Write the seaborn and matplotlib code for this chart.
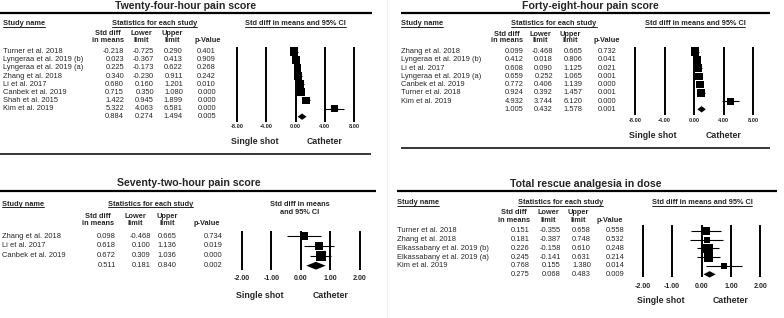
import matplotlib
matplotlib.use("Agg")
import matplotlib.pyplot as plt
import seaborn as sns
import pandas as pd
from matplotlib.lines import Line2D

# ---------------- data ----------------
titles = ["Twenty-four-hour pain score", "Forty-eight-hour pain score",
          "Seventy-two-hour pain score", "Total rescue analgesia in dose"]

studies_24 = ["Turner et al. 2018", "Lyngeraa et al. 2019 (b)", "Lyngeraa et al. 2019 (a)",
              "Zhang et al. 2018", "Li et al. 2017", "Canbek et al. 2019",
              "Shah et al. 2015", "Kim et al. 2019"]
smd_24 = [-0.218, 0.023, 0.225, 0.340, 0.680, 0.715, 1.422, 5.322]
lower_24 = [-0.725, -0.367, -0.173, -0.230, 0.160, 0.350, 0.945, 4.063]
upper_24 = [0.290, 0.413, 0.622, 0.911, 1.201, 1.080, 1.899, 6.581]
p_24 = ["0.401", "0.909", "0.268", "0.242", "0.010", "0.000", "0.000", "0.000"]
pooled_24 = [0.884, 0.274, 1.494]
pooled_p_24 = "0.005"

studies_48 = ["Zhang et al. 2018", "Lyngeraa et al. 2019 (b)", "Li et al. 2017",
              "Lyngeraa et al. 2019 (a)", "Canbek et al. 2019", "Turner et al. 2018",
              "Kim et al. 2019"]
smd_48 = [0.099, 0.412, 0.608, 0.659, 0.772, 0.924, 4.932]
lower_48 = [-0.468, 0.018, 0.090, 0.252, 0.406, 0.392, 3.744]
upper_48 = [0.665, 0.806, 1.125, 1.065, 1.139, 1.457, 6.120]
p_48 = ["0.732", "0.041", "0.021", "0.001", "0.000", "0.001", "0.000"]
pooled_48 = [1.005, 0.432, 1.578]
pooled_p_48 = "0.001"

studies_72 = ["Zhang et al. 2018", "Li et al. 2017", "Canbek et al. 2019"]
smd_72 = [0.098, 0.618, 0.672]
lower_72 = [-0.468, 0.100, 0.309]
upper_72 = [0.665, 1.136, 1.036]
p_72 = ["0.734", "0.019", "0.000"]
pooled_72 = [0.511, 0.181, 0.840]
pooled_p_72 = "0.002"

studies_res = ["Turner et al. 2018", "Zhang et al. 2018", "Elkassabany et al. 2019 (b)",
               "Elkassabany et al. 2019 (a)", "Kim et al. 2019"]
smd_res = [0.151, 0.181, 0.226, 0.245, 0.768]
lower_res = [-0.355, -0.387, -0.158, -0.141, 0.155]
upper_res = [0.658, 0.748, 0.610, 0.631, 1.380]
p_res = ["0.558", "0.532", "0.248", "0.214", "0.014"]
pooled_res = [0.275, 0.068, 0.483]
pooled_p_res = "0.009"

ticks_wide = [-8, -4, 0, 4, 8]
ticklabels_wide = ["-8.00", "-4.00", "0.00", "4.00", "8.00"]
ticks_narrow = [-2, -1, 0, 1, 2]
ticklabels_narrow = ["-2.00", "-1.00", "0.00", "1.00", "2.00"]

label_left, label_right = "Single shot", "Catheter"

# ---------------- style / layout ----------------
W, H = 784, 318
sns.set_theme(style="white")
plt.rcParams["font.family"] = ["Liberation Sans", "DejaVu Sans"]

fig = plt.figure(figsize=(W / 100, H / 100), dpi=100)
fig.patch.set_facecolor("white")


def fx(x):
    return x / W


def fy(y):
    return 1 - y / H


def ftext(x, y, s, size=5.4, weight="normal", ha="left", va="center"):
    return fig.text(fx(x), fy(y), s, fontsize=size, fontweight=weight, ha=ha, va=va)


def hline(x0, x1, y, lw, color="black"):
    fig.add_artist(Line2D([fx(x0), fx(x1)], [fy(y), fy(y)], transform=fig.transFigure,
                          color=color, lw=lw, solid_capstyle="butt"))


underlined = []

layouts = [
    dict(title=(186, 8.6), tline=(0, 372, 12.7), sub_y=23.3, study_x=3, stat_c=154.5,
         ci_c=295.5, ci_two=None, h1_y=33.7, h2_y=41, hc=[108, 141.7, 172], p_hc=208,
         row0=51.7, dy=8.125, cols=[124, 154, 183, 216], tick_px=(237.3, 354),
         vl=(47, 122), tick_y=127, tick_fs=4.1, ss=(255, 325, 141), bline=(0, 371, 154)),
    dict(title=(590, 8.6), tline=(401, 770, 12.7), sub_y=23.3, study_x=401, stat_c=554,
         ci_c=695, ci_two=None, h1_y=34, h2_y=41, hc=[507, 540, 570], p_hc=606.7,
         row0=51.7, dy=8.23, cols=[523.3, 553, 582.5, 616.7], tick_px=(635, 753.3),
         vl=(46.7, 115), tick_y=120.7, tick_fs=4.1, ss=(653, 724, 135), bline=(401, 770, 148)),
    dict(title=(188.5, 186.5), tline=(0, 376, 191), sub_y=204, study_x=2, stat_c=150.5,
         ci_c=299.7, ci_two=(204, 212.7), h1_y=216, h2_y=223.3, hc=[98, 135, 167.5],
         p_hc=206.7, row0=236, dy=9.9, cols=[116, 151, 176.7, 222.7], tick_px=(241.7, 360),
         vl=(230.7, 270), tick_y=278.3, tick_fs=5, ss=(259.7, 330.2, 295.7), bline=None),
    dict(title=(585.5, 187), tline=(397, 777, 191), sub_y=202.7, study_x=397.3, stat_c=560.5,
         ci_c=702, ci_two=None, h1_y=212.7, h2_y=220.3, hc=[514, 548, 578], p_hc=609.7,
         row0=231, dy=8.67, cols=[529.3, 561, 591, 624.3], tick_px=(642.7, 760.3),
         vl=(225, 277.3), tick_y=286, tick_fs=5, ss=(660.7, 730.8, 300.7), bline=None),
]

square_px = [
    [8.5, 7.5, 7.5, 7.5, 7.5, 8, 7.5, 7],
    [8.5, 7.5, 7.5, 7.5, 7.5, 7.5, 7],
    [7.6, 8, 10],
    [8.5, 6.3, 9.5, 9.5, 6],
]
diamond_half_px = [3.2, 3.2, 3.9, 3.2]

panels = [
    (studies_24, smd_24, lower_24, upper_24, p_24, pooled_24, pooled_p_24, ticks_wide, ticklabels_wide),
    (studies_48, smd_48, lower_48, upper_48, p_48, pooled_48, pooled_p_48, ticks_wide, ticklabels_wide),
    (studies_72, smd_72, lower_72, upper_72, p_72, pooled_72, pooled_p_72, ticks_narrow, ticklabels_narrow),
    (studies_res, smd_res, lower_res, upper_res, p_res, pooled_res, pooled_p_res, ticks_narrow, ticklabels_narrow),
]

# faint separator between the columns of panels
fig.add_artist(Line2D([fx(387), fx(387)], [0, 1], transform=fig.transFigure, color="#efefef", lw=0.6))

for k, (L, P) in enumerate(zip(layouts, panels)):
    names, smd, lo, hi, pv, pooled, pooled_p, ticks, ticklabels = P
    n = len(names)

    # headers
    ftext(L["title"][0], L["title"][1], titles[k], size=7.6, weight="bold", ha="center",
          va="baseline")
    hline(L["tline"][0], L["tline"][1], L["tline"][2], 1.6)
    underlined.append(ftext(L["study_x"], L["sub_y"], "Study name", size=5.3, weight="bold"))
    underlined.append(ftext(L["stat_c"], L["sub_y"], "Statistics for each study", size=5.3,
                            weight="bold", ha="center"))
    if L["ci_two"] is None:
        underlined.append(ftext(L["ci_c"], L["sub_y"], "Std diff in means and 95% CI", size=5.3,
                                weight="bold", ha="center"))
    else:
        ftext(L["ci_c"], L["ci_two"][0], "Std diff in means", size=5.3, weight="bold", ha="center")
        ftext(L["ci_c"], L["ci_two"][1], "and 95% CI", size=5.3, weight="bold", ha="center")
    for c, (a, b) in zip(L["hc"], [("Std diff", "in means"), ("Lower", "limit"), ("Upper", "limit")]):
        ftext(c, L["h1_y"], a, size=5.3, weight="bold", ha="center")
        ftext(c, L["h2_y"], b, size=5.3, weight="bold", ha="center")
    ftext(L["p_hc"], L["h2_y"], "p-Value", size=5.3, weight="bold", ha="center")

    # table rows
    for i in range(n + 1):
        y = L["row0"] + i * L["dy"]
        if i < n:
            ftext(L["study_x"], y, names[i])
            vals = [smd[i], lo[i], hi[i]]
            p = pv[i]
        else:
            vals = pooled
            p = pooled_p
        for c, v in zip(L["cols"][:3], vals):
            ftext(c, y, f"{v:.3f}", ha="right")
        ftext(L["cols"][3], y, p, ha="right")

    # forest axes: map data values to pixel positions
    px0, px1 = L["tick_px"]
    v0, v1 = ticks[0], ticks[-1]
    m = 25
    vpp = (v1 - v0) / (px1 - px0)
    r0 = L["row0"]
    rpp = 1.0 / L["dy"]
    left, right = px0 - m, px1 + m
    top, bottom = r0 - m, r0 + n * L["dy"] + m
    ax = fig.add_axes([fx(left), fy(bottom), (right - left) / W, (bottom - top) / H])

    def row_of(py):
        return (py - r0) * rpp

    rows = list(range(n))
    ax.vlines(ticks, row_of(L["vl"][0]), row_of(L["vl"][1]), color="black", lw=1.4)
    ax.hlines(rows, lo, hi, color="black", lw=0.8)
    df = pd.DataFrame({"smd": smd, "row": rows})
    sns.scatterplot(data=df, x="smd", y="row", marker="s",
                    s=[(q * 0.72) ** 2 for q in square_px[k]],
                    color="black", edgecolor="black", linewidth=0, legend=False, ax=ax)
    h = diamond_half_px[k] * rpp
    ax.fill([pooled[1], pooled[0], pooled[2], pooled[0]], [n, n - h, n, n + h],
            color="black", lw=0)
    for t, lab in zip(ticks, ticklabels):
        ax.text(t, row_of(L["tick_y"]), lab, ha="center", va="center",
                fontsize=L["tick_fs"], fontweight="bold")
    ax.set_xlim(v0 - m * vpp, v1 + m * vpp)
    ax.set_ylim(n + m * rpp, -m * rpp)
    ax.axis("off")

    ftext(L["ss"][0], L["ss"][2], label_left, size=6.3, weight="bold", ha="center")
    ftext(L["ss"][1], L["ss"][2], label_right, size=6.3, weight="bold", ha="center")
    if L["bline"] is not None:
        hline(L["bline"][0], L["bline"][1], L["bline"][2], 1.1)

# underline the sub-headers
fig.canvas.draw()
rend = fig.canvas.get_renderer()
for t in underlined:
    bb = t.get_window_extent(rend)
    y = bb.y0 + 0.3
    fig.add_artist(Line2D([bb.x0 / W, bb.x1 / W], [y / H, y / H], transform=fig.transFigure,
                          color="black", lw=0.6))

fig.savefig("out.png", dpi=100, facecolor="white")
